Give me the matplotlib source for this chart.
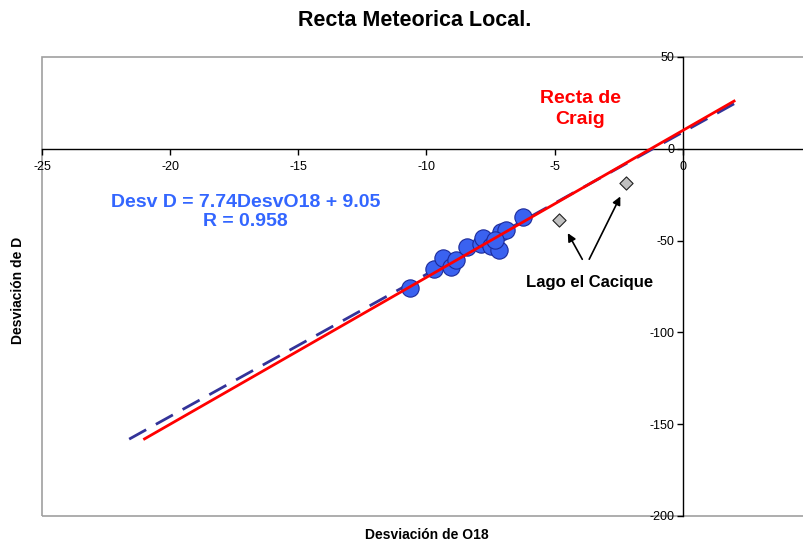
import matplotlib
matplotlib.use("Agg")
import matplotlib.pyplot as plt
from matplotlib.patches import Rectangle
import numpy as np

plt.rcParams['font.family'] = ['Liberation Sans', 'DejaVu Sans']
plt.rcParams['axes.unicode_minus'] = False

# Data
o18 = [-10.63, -9.69, -9.36, -9.04, -8.84, -8.41, -7.89, -7.80, -7.47, -7.19,
       -7.08, -6.91, -6.24, -7.34]
dD = [-75.7, -65.4, -59.4, -64.5, -60.5, -53.3, -51.8, -48.5, -52.7, -55.1,
      -45.5, -44.2, -37.3, -49.6]
lago_o18 = [-4.84, -2.23]
lago_dD = [-38.6, -18.5]

reg_slope, reg_int = 7.74, 9.05
reg_range = [-21.6, 2.0]
craig_slope, craig_int = 8.0, 10.0
craig_range = [-21.0, 2.0]

xticks = [-25, -20, -15, -10, -5, 0]
yticks = [-200, -150, -100, -50, 0, 50]

fig = plt.figure(figsize=(8.04, 5.46), dpi=100)
ax = fig.add_axes([42/804, 1-516/546, (811-42)/804, (516-57)/546])
ax.set_xlim(-25, 5)
ax.set_ylim(-200, 50)

# regression (dashed) and Craig line
xr = np.array(reg_range)
ax.plot(xr, reg_slope*xr + reg_int, color='#333399', lw=2, dashes=(7, 4), zorder=3)
xc = np.array(craig_range)
ax.plot(xc, craig_slope*xc + craig_int, color='#ff0000', lw=2, zorder=5)

ax.scatter(o18, dD, s=155, facecolor='#3a62f0', edgecolor='#1c2a9a', lw=0.8, zorder=4)
ax.scatter(lago_o18, lago_dD, marker='D', s=45, facecolor='#c0c0c0', edgecolor='#202020', lw=0.8, zorder=4)

# axes through zero
for s in ['top', 'right']:
    ax.spines[s].set_visible(False)
ax.spines['bottom'].set_position(('data', 0))
ax.spines['left'].set_position(('data', 0))
ax.spines['bottom'].set_color('black')
ax.spines['left'].set_color('black')
ax.spines['bottom'].set_linewidth(1)
ax.spines['left'].set_linewidth(1)
ax.add_patch(Rectangle((0, 0), 1, 1, transform=ax.transAxes, fill=False,
                       edgecolor='#a0a0a0', lw=1.2, clip_on=False, zorder=0))

ax.set_xticks(xticks)
ax.set_yticks(yticks)
ax.tick_params(axis='both', labelsize=9, length=4, width=1, direction='out', pad=2)
ax.tick_params(axis='x', pad=5)

fig.text(415/804, 1-21/546, 'Recta Meteorica Local.', ha='center', va='center',
         fontsize=15.5, fontweight='bold')
fig.text(18/804, 1-290/546, 'Desviación de D', rotation=90, ha='center', va='center',
         fontsize=10, fontweight='bold')
fig.text(427/804, 1-535/546, 'Desviación de O18', ha='center', va='center',
         fontsize=10, fontweight='bold')

ax.text(-17.05, -34.5, 'Desv D = 7.74DesvO18 + 9.05\nR = 0.958', ha='center', va='center',
        color='#3366ff', fontsize=14, fontweight='bold', linespacing=1.2)
ax.text(-4.0, 21.5, 'Recta de\nCraig', ha='center', va='center', color='#ff0000',
        fontsize=14, fontweight='bold', linespacing=1.3)
ax.text(-3.63, -72.8, 'Lago el Cacique', ha='center', va='center', color='black',
        fontsize=12, fontweight='bold')

ax.annotate('', xy=(-4.54, -44.6), xytext=(-3.87, -61.5),
            arrowprops=dict(arrowstyle='-|>', color='black', lw=1.2, mutation_scale=12))
ax.annotate('', xy=(-2.39, -24.6), xytext=(-3.7, -61.5),
            arrowprops=dict(arrowstyle='-|>', color='black', lw=1.2, mutation_scale=12))

fig.savefig('out.png', dpi=100)
